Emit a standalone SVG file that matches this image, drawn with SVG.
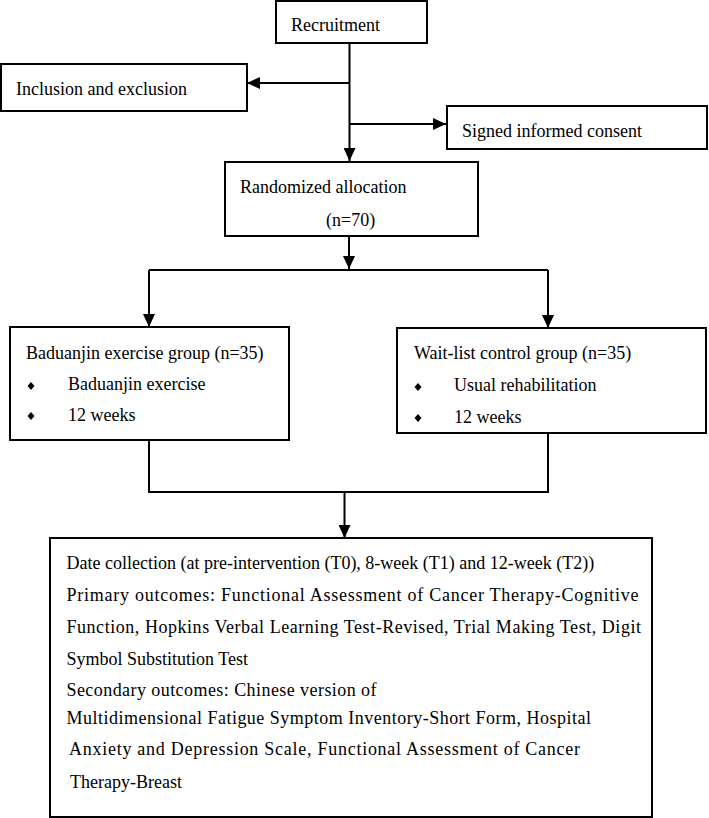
<svg xmlns="http://www.w3.org/2000/svg" width="709" height="818" viewBox="0 0 709 818">
<style>
.box{fill:#fff;stroke:#000;stroke-width:2}
.t{font-family:"Liberation Serif","Times New Roman",serif;font-size:18px;fill:#000}
.c{fill:none;stroke:#000;stroke-width:2}
.b{fill:#000}
</style>
<defs>
<marker id="ah" markerUnits="userSpaceOnUse" markerWidth="14" markerHeight="12" refX="13" refY="6" orient="auto">
<path d="M0,0 L13,6 L0,12 z" fill="#000"/>
</marker>
</defs>
<rect width="709" height="818" fill="#fff"/>
<g id="connectors">
<path class="c" d="M349.5,43 V161" marker-end="url(#ah)"/>
<path class="c" d="M349.5,83 H247" marker-end="url(#ah)"/>
<path class="c" d="M349.5,124 H446" marker-end="url(#ah)"/>
<path class="c" d="M349,236 V269" marker-end="url(#ah)"/>
<path class="c" d="M149,270 H548"/>
<path class="c" d="M149,270 V327" marker-end="url(#ah)"/>
<path class="c" d="M548,270 V328" marker-end="url(#ah)"/>
<path class="c" d="M149,440 V492 H548 V433"/>
<path class="c" d="M344.5,492 V538" marker-end="url(#ah)"/>
</g>
<g id="recruitment">
<rect class="box" x="276" y="1" width="151" height="42"/>
<text class="t" x="291" y="31">Recruitment</text>
</g>
<g id="inclusion">
<rect class="box" x="1" y="64" width="246" height="47"/>
<text class="t" x="16" y="95">Inclusion and exclusion</text>
</g>
<g id="consent">
<rect class="box" x="447" y="106" width="260" height="43"/>
<text class="t" x="462" y="137">Signed informed consent</text>
</g>
<g id="randomized">
<rect class="box" x="225" y="162" width="253" height="74"/>
<text class="t" x="240" y="193">Randomized allocation</text>
<text class="t" x="326" y="226">(n=70)</text>
</g>
<g id="baduanjin">
<rect class="box" x="10" y="327" width="279" height="113"/>
<text class="t" x="26" y="359">Baduanjin exercise group (n=35)</text>
<polygon class="b" points="31,382 34.5,386 31,390 27.5,386"/>
<text class="t" x="68" y="390">Baduanjin exercise</text>
<polygon class="b" points="31,412 34.5,416 31,420 27.5,416"/>
<text class="t" x="68" y="421">12 weeks</text>
</g>
<g id="waitlist">
<rect class="box" x="397" y="328" width="309" height="105"/>
<text class="t" x="414" y="359">Wait-list control group (n=35)</text>
<polygon class="b" points="418,383 421.5,387 418,391 414.5,387"/>
<text class="t" x="454" y="391">Usual rehabilitation</text>
<polygon class="b" points="418,414 421.5,418 418,422 414.5,418"/>
<text class="t" x="454" y="423">12 weeks</text>
</g>
<g id="outcomes">
<rect class="box" x="50" y="538" width="602" height="279"/>
<text class="t" x="66.5" y="569">Date collection (at pre-intervention (T0), 8-week (T1) and 12-week (T2))</text>
<text class="t" x="66.5" y="601" textLength="572" lengthAdjust="spacing">Primary outcomes: Functional Assessment of Cancer Therapy-Cognitive</text>
<text class="t" x="66.5" y="633" textLength="574.5" lengthAdjust="spacing">Function, Hopkins Verbal Learning Test-Revised, Trial Making Test, Digit</text>
<text class="t" x="66.5" y="665">Symbol Substitution Test</text>
<text class="t" x="66.5" y="696" textLength="310" lengthAdjust="spacing">Secondary outcomes: Chinese version of</text>
<text class="t" x="66.5" y="724" textLength="524.5" lengthAdjust="spacing">Multidimensional Fatigue Symptom Inventory-Short Form, Hospital</text>
<text class="t" x="69" y="755" textLength="511" lengthAdjust="spacing">Anxiety and Depression Scale, Functional Assessment of Cancer</text>
<text class="t" x="70" y="788">Therapy-Breast</text>
</g>
</svg>
